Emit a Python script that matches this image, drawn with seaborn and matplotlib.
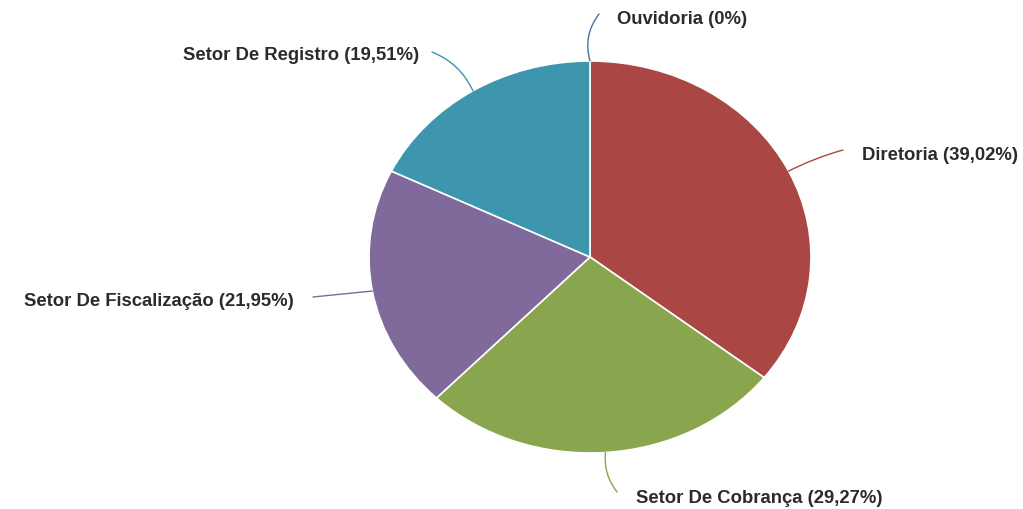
import numpy as np
import matplotlib
matplotlib.use("Agg")
import matplotlib.pyplot as plt
import seaborn as sns

# ---- data ----
categories = ["Ouvidoria", "Diretoria", "Setor De Cobrança", "Setor De Fiscalização", "Setor De Registro"]
values = [0.0, 39.02, 29.27, 21.95, 19.51]
value_labels = ["0%", "39,02%", "29,27%", "21,95%", "19,51%"]
colors = ["#4572A7", "#AA4643", "#89A54E", "#80699B", "#3D96AE"]

# ---- layout (pixel-based) ----
W, H = 1023, 509
CX, CY, RX, RY = 590, 257, 221, 196

def px(x, y):
    return ((x - CX) / RX, (CY - y) / RY)

# connector end (px), text anchor (px), ha, connector curvature
label_layout = [
    ((599, 14), (617, 19), "left", 0.25),
    ((843, 150), (862, 156), "left", 0.05),
    ((617, 492), (636, 499), "left", -0.2),
    ((313, 297), (294, 301), "right", 0.0),
    ((432, 52), (419, 56), "right", -0.2),
]

sns.set_theme(style="white")
plt.rcParams["font.family"] = ["Liberation Sans", "DejaVu Sans"]

fig = plt.figure(figsize=(W / 100, H / 100), dpi=100)
ax = fig.add_axes([0, 0, 1, 1])

wedges, _ = ax.pie(values, colors=colors, startangle=90, counterclock=False,
                   radius=1.0, center=(0, 0), frame=True,
                   wedgeprops=dict(edgecolor="white", linewidth=1.2))
ax.set_xlim(-CX / RX, (W - CX) / RX)
ax.set_ylim((CY - H) / RY, CY / RY)
ax.set_aspect("auto")
ax.axis("off")

total = sum(values)
start = 90.0
for i, (cat, v, lab) in enumerate(zip(categories, values, value_labels)):
    span = v / total * 360.0
    mid = np.deg2rad(start - span / 2)
    start -= span
    sx, sy = np.cos(mid), np.sin(mid)
    (ex, ey), (tx, ty), ha, rad = label_layout[i]
    ax.annotate("", xy=(sx, sy), xytext=px(ex, ey),
                arrowprops=dict(arrowstyle="-", color=colors[i], lw=1.0,
                                connectionstyle=f"arc3,rad={rad}",
                                shrinkA=0, shrinkB=0))
    ax.text(*px(tx, ty), f"{cat} ({lab})", ha=ha, va="center",
            fontsize=13.3, fontweight="bold", color="#2b2b2b")

fig.savefig("out.png", dpi=100, facecolor="white")
